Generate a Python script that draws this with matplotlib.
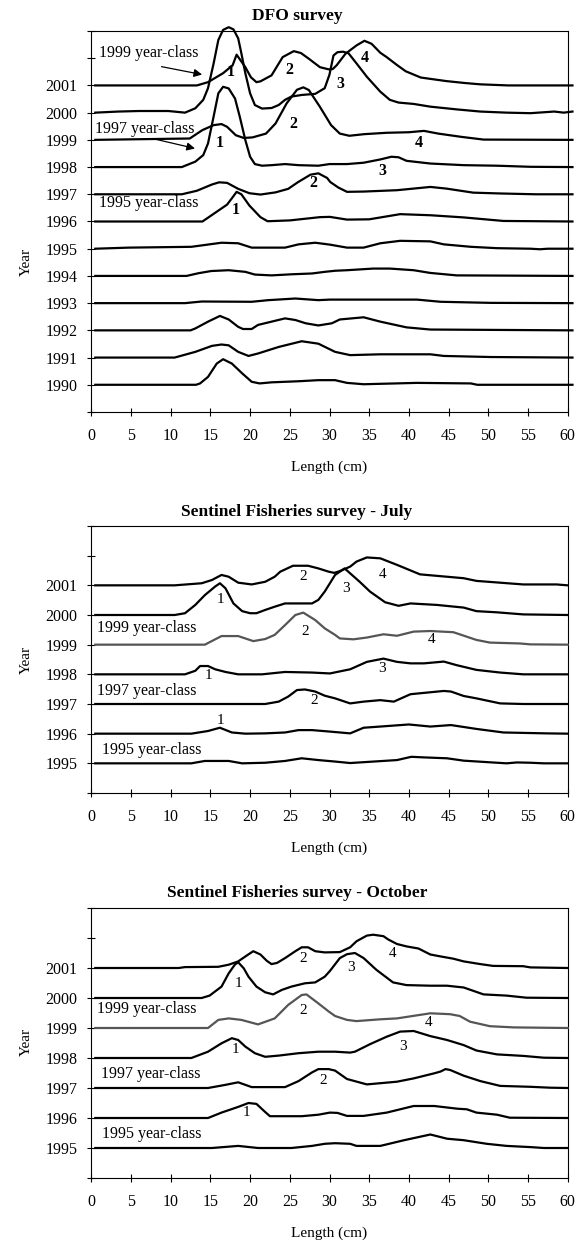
import matplotlib; matplotlib.use("Agg")
import matplotlib.pyplot as plt

plt.rcParams["font.family"] = ["Liberation Serif", "DejaVu Serif"]

LENGTH_TICKS = list(range(0, 65, 5))

# length (cm), height above the year baseline (in year units)
DFO = {
    2001: [(0.5, 0), (13.3, 0), (14.7, 0.12), (16.6, 0.45), (17.8, 0.74), (18.3, 1.13), (19.4, 0.67), (20.1, 0.3),
           (20.8, 0.12), (21.3, 0.15), (22.7, 0.37), (24.1, 1.04), (25.5, 1.26), (26.4, 1.19), (27.4, 0.98),
           (28.8, 0.67), (29.9, 0.59), (30.4, 0.6), (30.9, 0.74), (32.0, 1.16), (33.4, 1.47), (34.4, 1.64),
           (35.3, 1.53), (36.4, 1.2), (37.2, 1.04), (38.5, 0.75), (39.6, 0.52), (41.5, 0.29), (44.7, 0.16),
           (47, 0.09), (49, 0.04), (52.5, 0), (60.6, 0)],
    2000: [(0.5, 0), (3.4, 0.04), (6, 0.06), (9.7, 0.06), (11.8, 0), (13.1, 0.16), (14.1, 0.47), (14.7, 0.9),
           (15.4, 1.8), (16.0, 2.67), (16.6, 3.04), (17.3, 3.14), (17.9, 3.06), (18.5, 2.73), (18.9, 2.18),
           (19.4, 1.45), (20.0, 0.71), (20.6, 0.28), (21.5, 0.15), (22.7, 0.17), (23.6, 0.28), (24.4, 0.47),
           (25.2, 0.59), (26.5, 0.65), (28.2, 0.69), (29.4, 0.9), (30.0, 1.4), (30.5, 2.1), (31.0, 2.22),
           (31.7, 2.24), (32.4, 2.18), (33.4, 1.81), (34.7, 1.32), (36.4, 0.77), (37.6, 0.47), (38.7, 0.37),
           (40.6, 0.32), (42.7, 0.22), (46, 0.12), (49, 0.04), (52.3, 0), (55.3, -0.02), (58.3, 0.04),
           (59.5, 0), (60.6, 0.04)],
    1999: [(0.5, 0), (12.4, 0.05), (14.0, 0.36), (15.4, 0.54), (16.4, 0.58), (17.1, 0.48), (18.2, 0.17),
           (19.2, 0.07), (20.3, 0.09), (22, 0.23), (23.2, 0.6), (24.6, 1.34), (25.9, 1.84), (26.7, 1.93),
           (27.4, 1.83), (28.8, 1.21), (30.2, 0.54), (31.3, 0.23), (32.5, 0.15), (34.4, 0.21), (37.2, 0.26),
           (40, 0.28), (41.9, 0.33), (43.7, 0.23), (46.6, 0.11), (49.4, 0.01), (60.6, 0)],
    1998: [(0.5, 0), (11.4, 0), (13.1, 0.2), (14.1, 0.44), (14.7, 0.87), (15.4, 1.85), (16.0, 2.71), (16.6, 2.95),
           (17.3, 2.89), (18.1, 2.52), (18.7, 1.85), (19.4, 0.99), (20.0, 0.38), (20.6, 0.11), (21.5, 0.05),
           (22.7, 0.07), (24.4, 0.11), (26.1, 0.07), (28.6, 0.05), (30, 0.11), (32.2, 0.11), (34.3, 0.16),
           (36.4, 0.28), (37.8, 0.38), (38.7, 0.36), (39.7, 0.23), (42.7, 0.13), (46.9, 0.07), (51.1, 0.05),
           (55.3, 0.01), (60.6, 0)],
    1997: [(0.5, 0), (11.4, 0), (13.3, 0.13), (15.2, 0.36), (16.1, 0.44), (17.1, 0.42), (18.5, 0.2), (19.9, 0.04),
           (21.3, -0.01), (23.2, 0.07), (24.8, 0.2), (26, 0.44), (27.6, 0.72), (28.6, 0.77), (29.7, 0.6),
           (30.1, 0.45), (31.1, 0.25), (32.2, 0.09), (34.3, 0.1), (38.5, 0.15), (42.7, 0.27), (44.7, 0.21),
           (48.1, 0.06), (51.5, 0.03), (56, 0), (60.6, 0)],
    1996: [(0.5, 0), (14, 0), (15.4, 0.28), (17.1, 0.62), (17.8, 0.89), (18.3, 1.09), (18.9, 1.0), (19.9, 0.59),
           (21.3, 0.16), (22.2, 0.01), (25, 0.04), (28.8, 0.16), (30.05, 0.17), (32.2, 0.07), (35, 0.08),
           (38.9, 0.27), (42.7, 0.23), (46.9, 0.15), (51.9, 0.02), (60.6, 0)],
    1995: [(0.5, 0), (4.7, 0.04), (12.6, 0.07), (16.4, 0.22), (18.5, 0.2), (20.2, 0.04), (24.4, 0.04),
           (26.1, 0.16), (28.2, 0.22), (30.05, 0.15), (32.2, 0.04), (34.3, 0.04), (36.4, 0.2), (38.9, 0.29),
           (42.7, 0.27), (44.4, 0.16), (47.8, 0.07), (51.1, 0.02), (55.3, 0), (56.5, -0.02), (57.5, 0), (60.6, 0)],
    1994: [(0.5, 0), (12, 0), (13.5, 0.1), (15.1, 0.18), (17.3, 0.21), (19.4, 0.15), (20.6, 0.05), (22.7, 0.02),
           (25.2, 0.06), (27.8, 0.09), (29.4, 0.15), (30.7, 0.19), (32.2, 0.21), (35.5, 0.27), (37.6, 0.27),
           (40.6, 0.21), (42.7, 0.11), (46, 0.02), (60.6, 0)],
    1993: [(0.5, 0), (11.8, 0), (13.9, 0.06), (20.2, 0.05), (22.3, 0.11), (25.7, 0.17), (28.6, 0.11),
           (30.05, 0.13), (41, 0.13), (44, 0.05), (50.3, 0.01), (60.6, 0)],
    1992: [(0.5, 0), (12.5, 0), (13.1, 0.07), (14.7, 0.32), (16.2, 0.53), (17.3, 0.4), (18.5, 0.13), (19.1, 0.05),
           (20.2, 0.05), (21, 0.2), (22.7, 0.32), (24.4, 0.44), (25.7, 0.38), (27, 0.26), (28.6, 0.18),
           (30.3, 0.26), (31.3, 0.4), (34.3, 0.48), (36.4, 0.32), (39.7, 0.11), (42.7, 0.03), (60.6, 0)],
    1991: [(0.5, 0), (10.5, 0), (13.1, 0.21), (15.2, 0.43), (16.4, 0.48), (17.3, 0.45), (18.5, 0.21),
           (19.8, 0.06), (21, 0.15), (23.6, 0.39), (26.5, 0.6), (28.6, 0.51), (30.7, 0.21), (32.6, 0.09),
           (36.4, 0.12), (42.7, 0.12), (44.4, 0.06), (50.3, 0.02), (60.6, 0)],
    1990: [(0.5, 0), (13.2, 0), (13.7, 0.05), (14.7, 0.29), (15.8, 0.78), (16.6, 0.94), (17.7, 0.78), (19, 0.42),
           (20.2, 0.11), (21.2, 0.05), (22.7, 0.09), (26.1, 0.13), (28.6, 0.17), (30.7, 0.17), (32.2, 0.07),
           (34.3, 0.02), (41, 0.07), (47.8, 0.05), (48.6, 0), (60.6, 0)],
}

JULY = {
    2001: [(0.5, 0), (10.5, 0), (13.9, 0.07), (15.2, 0.18), (16.4, 0.35), (17.3, 0.29), (18.5, 0.09), (20.2, 0.03),
           (21.9, 0.12), (23.1, 0.29), (23.8, 0.46), (25.4, 0.66), (27.3, 0.66), (28.6, 0.57), (29.9, 0.46),
           (30.6, 0.42), (31.3, 0.48), (32.6, 0.63), (33.4, 0.8), (34.7, 0.94), (36.4, 0.91), (38.5, 0.69),
           (41.4, 0.37), (46.9, 0.24), (48.5, 0.15), (54.4, 0.03), (58.6, 0.03), (60, 0)],
    2000: [(0.5, 0), (10.5, 0), (11.8, 0.06), (13.1, 0.34), (14.3, 0.67), (15.6, 0.96), (16.2, 1.07), (16.9, 0.9),
           (17.9, 0.39), (19, 0.13), (20, 0.06), (20.8, 0.06), (21.9, 0.17), (23.1, 0.28), (24.4, 0.39),
           (27.8, 0.39), (28.6, 0.51), (29.4, 0.79), (30.7, 1.35), (31.9, 1.57), (33.8, 1.12), (35.1, 0.79),
           (37, 0.43), (38.7, 0.31), (40.2, 0.39), (43.5, 0.34), (46.9, 0.25), (48.5, 0.13), (51.1, 0.09),
           (54.4, 0.02), (60, 0)],
    1999: [(0.5, 0), (14.3, 0), (16.4, 0.29), (18.5, 0.29), (20.4, 0.12), (21.9, 0.19), (23.1, 0.33), (24.4, 0.66),
           (25.7, 1.0), (26.7, 1.08), (28.2, 0.83), (29.4, 0.55), (30.7, 0.33), (31.3, 0.21), (33, 0.18),
           (34.7, 0.24), (36.8, 0.35), (38.5, 0.3), (40.6, 0.44), (42.7, 0.46), (45.6, 0.42), (48.5, 0.16),
           (50.2, 0.07), (54, 0.04), (55.3, 0.01), (60, 0)],
    1998: [(0.5, 0), (11.8, 0), (13.1, 0.12), (13.7, 0.28), (14.7, 0.28), (15.6, 0.17), (16.9, 0.08), (18.5, 0),
           (21.5, 0), (24.4, 0.08), (27.8, 0.06), (30.05, 0.03), (32.6, 0.17), (34.7, 0.42), (36.8, 0.53),
           (38.5, 0.42), (40.2, 0.37), (41.9, 0.37), (44.4, 0.43), (46, 0.31), (48.5, 0.15), (51.5, 0.06),
           (54.4, 0), (60, 0)],
    1997: [(0.5, 0), (21.9, 0), (23.6, 0.08), (24.8, 0.25), (25.9, 0.47), (26.9, 0.49), (28.2, 0.42), (29.4, 0.28),
           (30.7, 0.19), (32.6, 0.02), (34.3, 0.08), (36.4, 0.13), (38.1, 0.08), (40.2, 0.33), (44.4, 0.44),
           (45.3, 0.42), (46.9, 0.27), (48.5, 0.19), (51.5, 0.02), (54.4, 0), (60, 0)],
    1996: [(0.5, 0), (12.6, 0), (14.7, 0.09), (16.2, 0.2), (17.7, 0.04), (19.4, 0), (21.9, 0.01), (24.4, 0.04),
           (26.1, 0.12), (27.8, 0.12), (30.05, 0.07), (32.6, 0.01), (34.3, 0.2), (36.4, 0.24), (40, 0.31),
           (42.7, 0.24), (45.3, 0.29), (48.5, 0.16), (51.9, 0.04), (57.3, 0.01), (60, 0)],
    1995: [(0.5, 0), (12.6, 0), (14.3, 0.08), (17.3, 0.08), (19, 0), (21.9, 0.02), (24.4, 0.08), (26.5, 0.17),
           (28.6, 0.11), (30.7, 0.06), (32.6, 0.01), (38.5, 0.11), (40.3, 0.22), (41.9, 0.2), (44.8, 0.17),
           (46.9, 0.09), (52.3, 0), (53.6, 0.03), (55.3, 0.02), (57, 0), (60, 0)],
}

OCTOBER = {
    2001: [(0.5, 0), (11, 0), (11.8, 0.03), (16, 0.04), (17.3, 0.11), (18.5, 0.22), (19.6, 0.42), (20.4, 0.56),
           (21.3, 0.45), (22.1, 0.24), (22.7, 0.13), (23.4, 0.17), (24.4, 0.33), (25.7, 0.56), (26.5, 0.69),
           (27.3, 0.69), (28.2, 0.56), (29.4, 0.52), (31.3, 0.53), (32.6, 0.69), (33.4, 0.89), (34.7, 1.08),
           (35.5, 1.11), (36.8, 1.06), (37.4, 0.95), (38.5, 0.8), (39.7, 0.72), (41.2, 0.65), (42.7, 0.45),
           (43.9, 0.39), (45.6, 0.31), (46.9, 0.22), (49, 0.13), (50.6, 0.07), (54.4, 0.06), (55.3, 0.02), (60, 0)],
    2000: [(0.5, 0), (13.9, 0), (14.9, 0.08), (16.4, 0.38), (17.3, 0.82), (18.1, 1.12), (18.5, 1.19), (19.2, 0.99),
           (19.8, 0.71), (20.8, 0.38), (21.9, 0.19), (22.9, 0.12), (24, 0.27), (25.2, 0.38), (26.9, 0.49),
           (28.2, 0.52), (29.4, 0.71), (30.05, 0.9), (31.3, 1.33), (32.2, 1.46), (33.2, 1.5), (34.3, 1.33),
           (35.9, 0.94), (38, 0.52), (39.7, 0.43), (42.7, 0.41), (44.8, 0.41), (46.9, 0.35), (49.4, 0.12),
           (52.3, 0.08), (54.8, 0.01), (60, 0)],
    1999: [(0.5, 0), (14.7, 0), (16, 0.27), (17.3, 0.32), (18.9, 0.27), (21, 0.12), (23.1, 0.32), (24.8, 0.77),
           (26.5, 1.1), (27.1, 1.12), (28.6, 0.82), (29.9, 0.55), (30.7, 0.4), (32.2, 0.27), (33.4, 0.23),
           (36.4, 0.29), (38.5, 0.32), (42.7, 0.49), (45.2, 0.46), (46.4, 0.4), (47.7, 0.21), (50.2, 0.06),
           (53.2, 0.02), (60, 0)],
    1998: [(0.5, 0), (12.6, 0), (14.7, 0.21), (16.4, 0.49), (17.7, 0.66), (18.5, 0.6), (19.4, 0.38), (20.6, 0.16),
           (21.9, 0.04), (23.6, 0.08), (26.1, 0.16), (28.6, 0.21), (30.7, 0.21), (32.6, 0.18), (33.2, 0.21),
           (35.1, 0.46), (37.2, 0.71), (38.9, 0.88), (40.6, 0.9), (42.7, 0.73), (44.8, 0.6), (46.9, 0.43),
           (48.5, 0.25), (51.1, 0.12), (54.4, 0.07), (57, 0.01), (60, 0)],
    1997: [(0.5, 0), (14.7, 0), (16.8, 0.1), (18.5, 0.19), (20.2, 0.03), (24.4, 0.03), (26.1, 0.23), (27.8, 0.52),
           (28.6, 0.63), (29.9, 0.63), (30.7, 0.58), (32.2, 0.3), (34.7, 0.12), (36.4, 0.16), (38.5, 0.21),
           (40.6, 0.32), (43.2, 0.49), (44, 0.55), (44.6, 0.63), (45.2, 0.6), (46.9, 0.41), (49, 0.23),
           (51.5, 0.07), (55.3, 0.04), (57.8, 0.01), (60, 0)],
    1996: [(0.5, 0), (14.7, 0), (16.4, 0.18), (18.5, 0.37), (19.8, 0.5), (20.8, 0.47), (21.9, 0.2), (22.5, 0.06),
           (26.5, 0.06), (28.6, 0.11), (30.05, 0.18), (31, 0.17), (32.2, 0.07), (34.3, 0.07), (37.2, 0.18),
           (40.6, 0.4), (43.2, 0.4), (46.1, 0.31), (47.3, 0.29), (48.5, 0.18), (51.1, 0.11), (52.7, 0.01), (60, 0)],
    1995: [(0.5, 0), (15.2, 0), (18.5, 0.07), (21, 0), (25.2, 0), (27.8, 0.07), (29.4, 0.14), (30.7, 0.16),
           (32.6, 0.14), (33.4, 0.07), (36.4, 0.07), (39.4, 0.26), (42.7, 0.45), (44.8, 0.31), (46.9, 0.26),
           (49.8, 0.14), (52.3, 0.07), (55.3, 0.03), (57, 0), (60, 0)],
}

# age labels (length, y, text)
DFO_AGES = [(17.55, 2001.5, "1"), (24.9, 2001.57, "2"), (31.3, 2001.04, "3"), (34.4, 2002.0, "4"),
            (16.2, 1998.89, "1"), (25.4, 1999.58, "2"), (41.2, 1998.87, "4"), (36.6, 1997.86, "3"),
            (27.96, 1997.4, "2"), (18.2, 1996.42, "1")]
JULY_AGES = [(26.7, 2001.29, "2"), (16.3, 2000.51, "1"), (32.1, 2000.9, "3"), (36.65, 2001.35, "4"),
             (27.0, 1999.46, "2"), (42.8, 1999.16, "4"), (14.8, 1997.95, "1"), (36.65, 1998.2, "3"),
             (28.05, 1997.11, "2"), (16.3, 1996.43, "1")]
OCT_AGES = [(26.7, 2001.31, "2"), (18.5, 2000.47, "1"), (32.7, 2001.02, "3"), (37.9, 2001.49, "4"),
            (26.7, 1999.6, "2"), (42.5, 1999.17, "4"), (18.2, 1998.28, "1"), (39.3, 1998.39, "3"),
            (29.2, 1997.26, "2"), (19.6, 1996.18, "1")]

DFO_CLASSES = [(1.0, 2002.19, "1999 year-class"), (0.5, 1999.41, "1997 year-class"), (1.0, 1996.67, "1995 year-class")]
JULY_CLASSES = [(0.7, 1999.55, "1999 year-class"), (0.7, 1997.45, "1997 year-class"), (1.4, 1995.45, "1995 year-class")]
OCT_CLASSES = [(0.7, 1999.62, "1999 year-class"), (1.2, 1997.45, "1997 year-class"), (1.4, 1995.46, "1995 year-class")]
DFO_ARROWS = [((8.5, 2001.71), (14.3, 2001.38)), ((7.4, 1999.07), (13.4, 1998.66))]

W, H = 581, 1243
PANELS = [
    dict(curves=DFO, title="DFO survey", ylo=1989, top=31, bot=412, ty=16, ly=467, yy=262,
         ages=DFO_AGES, bold=True, classes=DFO_CLASSES, arrows=DFO_ARROWS, gray=()),
    dict(curves=JULY, title="Sentinel Fisheries survey - July", ylo=1994, top=526, bot=793, ty=512, ly=848, yy=660,
         ages=JULY_AGES, bold=False, classes=JULY_CLASSES, arrows=[], gray=(1999,)),
    dict(curves=OCTOBER, title="Sentinel Fisheries survey - October", ylo=1994, top=908, bot=1178, ty=893, ly=1233,
         yy=1042, ages=OCT_AGES, bold=False, classes=OCT_CLASSES, arrows=[], gray=(1999,)),
]

fig = plt.figure(figsize=(W / 100, H / 100), dpi=100)
for p in PANELS:
    ax = fig.add_axes([91.3 / W, 1 - p["bot"] / H, (567.7 - 91.3) / W, (p["bot"] - p["top"]) / H])
    for year, pts in p["curves"].items():
        col = "#555555" if year in p["gray"] else "black"
        ax.plot([q[0] for q in pts], [year + q[1] for q in pts], color=col, lw=1.6, clip_on=False,
                solid_joinstyle="round", zorder=3)
    years = list(p["curves"])
    ax.set_xlim(0, 60); ax.set_ylim(p["ylo"], 2003)
    ax.set_xticks(LENGTH_TICKS); ax.set_xticklabels([str(t) for t in LENGTH_TICKS])
    yt = list(range(p["ylo"], 2004))
    ax.set_yticks(yt); ax.set_yticklabels([str(y) if y in years else "" for y in yt])
    ax.tick_params(axis="both", direction="inout", length=6, width=0.8, labelsize=11.5)
    ax.tick_params(axis="y", pad=7); ax.tick_params(axis="x", pad=8.5)
    for s in ax.spines.values(): s.set_linewidth(0.8)
    for x, y, t in p["ages"]:
        ax.text(x, y, t, ha="center", va="center", fontsize=11.5 if p["bold"] else 11,
                fontweight="bold" if p["bold"] else "normal", zorder=4)
    for x, y, t in p["classes"]:
        ax.text(x, y, t, ha="left", va="center", fontsize=11.5, zorder=4)
    for a, b in p["arrows"]:
        ax.annotate("", xy=b, xytext=a, arrowprops=dict(arrowstyle="-|>", color="black", lw=0.9, mutation_scale=12))
    fig.text(297 / W, 1 - p["ty"] / H, p["title"], ha="center", va="center", fontsize=12.5, fontweight="bold")
    fig.text(329.5 / W, 1 - p["ly"] / H, "Length (cm)", ha="center", va="center", fontsize=11)
    fig.text(26 / W, 1 - p["yy"] / H, "Year", ha="center", va="center", rotation=90, fontsize=11)

fig.savefig("out.png", dpi=100)
